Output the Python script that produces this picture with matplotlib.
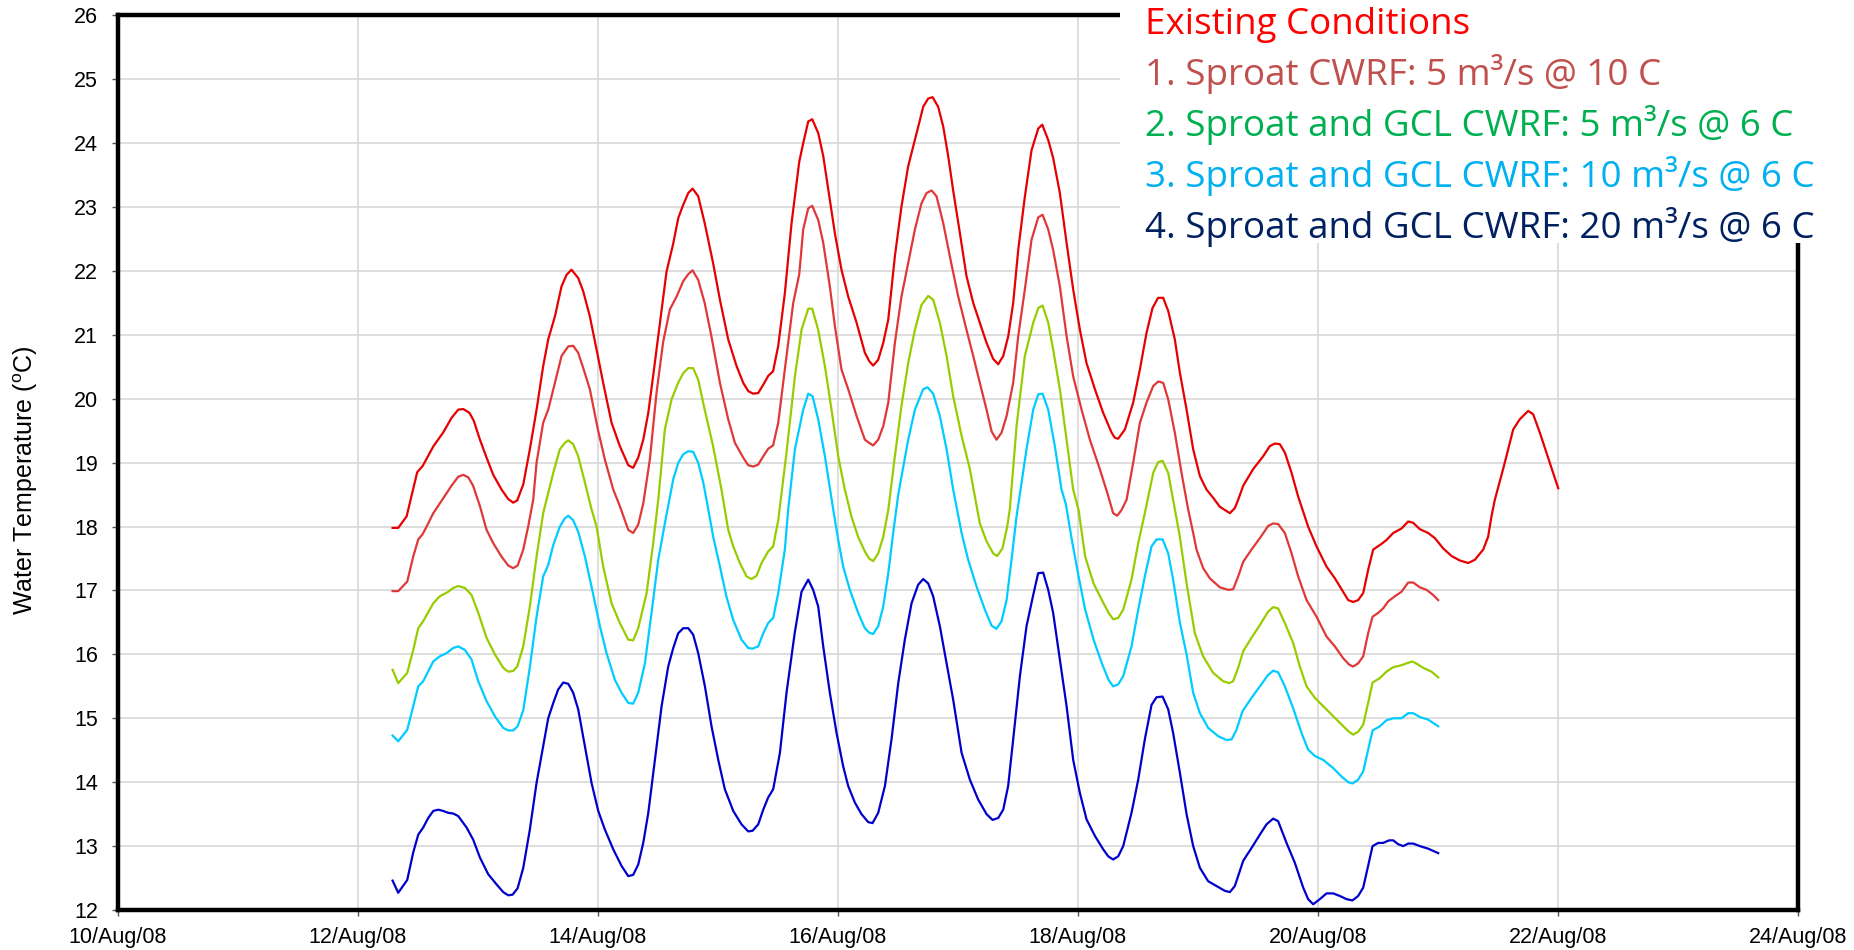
import numpy as np
import pandas as pd
import matplotlib
matplotlib.use("Agg")
from matplotlib import pyplot as plt
import matplotlib.dates as mdates
from matplotlib.patches import Rectangle

# day of August 2008 (fractional) and water temperature in deg C
existing_day = [12.289, 12.336, 12.406, 12.42, 12.494, 12.54, 12.63, 12.71, 12.78, 12.836, 12.878, 12.93, 12.967,
                13.017, 13.072, 13.128, 13.197, 13.253, 13.294, 13.328, 13.378, 13.433, 13.489, 13.544, 13.586,
                13.642, 13.697, 13.739, 13.78, 13.836, 13.878, 13.933, 13.989, 14.044, 14.114, 14.183, 14.253,
                14.294, 14.336, 14.378, 14.42, 14.46, 14.517, 14.572, 14.628, 14.67, 14.71, 14.753, 14.789,
                14.836, 14.89, 14.96, 15.017, 15.086, 15.156, 15.211, 15.253, 15.294, 15.336, 15.378, 15.42,
                15.46, 15.503, 15.558, 15.614, 15.678, 15.711, 15.753, 15.786, 15.836, 15.878, 15.933, 15.975,
                16.03, 16.086, 16.156, 16.225, 16.261, 16.294, 16.336, 16.378, 16.42, 16.475, 16.53, 16.586,
                16.628, 16.67, 16.711, 16.753, 16.789, 16.836, 16.878, 16.92, 16.96, 17.017, 17.072, 17.128,
                17.183, 17.239, 17.294, 17.336, 17.378, 17.42, 17.461, 17.503, 17.558, 17.614, 17.67, 17.703,
                17.753, 17.794, 17.85, 17.906, 17.961, 18.017, 18.072, 18.142, 18.211, 18.281, 18.308, 18.336,
                18.392, 18.461, 18.517, 18.572, 18.622, 18.669, 18.711, 18.753, 18.808, 18.85, 18.906, 18.961,
                19.017, 19.072, 19.128, 19.183, 19.267, 19.308, 19.336, 19.378, 19.461, 19.544, 19.6, 19.642,
                19.683, 19.725, 19.781, 19.836, 19.864, 19.919, 19.989, 20.072, 20.142, 20.211, 20.253, 20.294,
                20.336, 20.378, 20.419, 20.461, 20.531, 20.572, 20.628, 20.697, 20.753, 20.794, 20.85, 20.919,
                20.975, 21.044, 21.114, 21.183, 21.253, 21.308, 21.378, 21.419, 21.447, 21.475, 21.544, 21.628,
                21.683, 21.753, 21.794, 21.85, 21.933, 22.003]
existing_temp = [17.98, 17.98, 18.16, 18.27, 18.85, 18.95, 19.26, 19.47, 19.70, 19.83, 19.84, 19.78, 19.65,
                 19.36, 19.08, 18.81, 18.58, 18.43, 18.375, 18.41, 18.66, 19.21, 19.83, 20.51, 20.93,
                 21.29, 21.76, 21.94, 22.02, 21.89, 21.68, 21.29, 20.77, 20.25, 19.625, 19.26, 18.96,
                 18.92, 19.08, 19.36, 19.78, 20.35, 21.18, 21.99, 22.43, 22.83, 23.03, 23.22, 23.29,
                 23.17, 22.75, 22.125, 21.55, 20.93, 20.51, 20.25, 20.12, 20.08, 20.09, 20.22, 20.36,
                 20.43, 20.83, 21.65, 22.75, 23.71, 24.0, 24.34, 24.375, 24.16, 23.8, 23.11, 22.59,
                 22.02, 21.6, 21.19, 20.72, 20.59, 20.52, 20.61, 20.875, 21.24, 22.23, 23.01, 23.64,
                 23.95, 24.26, 24.57, 24.70, 24.72, 24.57, 24.26, 23.79, 23.27, 22.59, 21.92, 21.5,
                 21.19, 20.875, 20.625, 20.54, 20.67, 20.98, 21.5, 22.33, 23.16, 23.89, 24.23, 24.29,
                 24.05, 23.77, 23.22, 22.44, 21.71, 21.08, 20.56, 20.15, 19.78, 19.47, 19.39, 19.375,
                 19.52, 19.94, 20.46, 21.03, 21.42, 21.58, 21.58, 21.375, 20.93, 20.41, 19.83, 19.21,
                 18.79, 18.58, 18.45, 18.31, 18.21, 18.29, 18.42, 18.64, 18.9, 19.1, 19.26, 19.3,
                 19.29, 19.16, 18.84, 18.47, 18.31, 18.0, 17.69, 17.375, 17.19, 16.98, 16.85, 16.82,
                 16.85, 16.96, 17.32, 17.64, 17.73, 17.79, 17.9, 17.97, 18.08, 18.06, 17.96, 17.9,
                 17.82, 17.66, 17.54, 17.47, 17.43, 17.48, 17.64, 17.84, 18.16, 18.42, 18.9, 19.52,
                 19.68, 19.81, 19.76, 19.47, 19.0, 18.6]

s1_day = [12.289, 12.336, 12.411, 12.461, 12.503, 12.539, 12.586, 12.628, 12.71, 12.78, 12.836, 12.878, 12.92,
          12.96, 13.017, 13.072, 13.128, 13.197, 13.253, 13.294, 13.331, 13.378, 13.419, 13.461, 13.489,
          13.544, 13.586, 13.642, 13.697, 13.753, 13.794, 13.836, 13.878, 13.933, 14.0, 14.058, 14.128,
          14.183, 14.253, 14.294, 14.336, 14.378, 14.433, 14.489, 14.544, 14.6, 14.656, 14.711, 14.753,
          14.789, 14.836, 14.89, 14.947, 15.017, 15.086, 15.142, 15.211, 15.253, 15.294, 15.336, 15.378,
          15.42, 15.46, 15.503, 15.558, 15.628, 15.678, 15.711, 15.753, 15.786, 15.836, 15.878, 15.933,
          15.975, 16.03, 16.086, 16.156, 16.225, 16.261, 16.294, 16.336, 16.378, 16.42, 16.475, 16.53,
          16.586, 16.642, 16.697, 16.739, 16.781, 16.822, 16.878, 16.933, 17.003, 17.072, 17.128, 17.183,
          17.239, 17.281, 17.322, 17.364, 17.406, 17.461, 17.503, 17.558, 17.614, 17.67, 17.706, 17.753,
          17.794, 17.85, 17.906, 17.961, 18.031, 18.1, 18.183, 18.253, 18.294, 18.328, 18.364, 18.406,
          18.461, 18.517, 18.572, 18.628, 18.669, 18.711, 18.753, 18.808, 18.864, 18.919, 18.961, 18.989,
          19.044, 19.1, 19.183, 19.253, 19.294, 19.336, 19.378, 19.447, 19.517, 19.586, 19.628, 19.669,
          19.725, 19.781, 19.836, 19.906, 19.989, 20.072, 20.142, 20.211, 20.261, 20.294, 20.336, 20.378,
          20.419, 20.456, 20.503, 20.544, 20.586, 20.642, 20.697, 20.753, 20.794, 20.85, 20.906, 20.961,
          21.003]
s1_temp = [16.99, 16.99, 17.14, 17.53, 17.80, 17.88, 18.05, 18.21, 18.44, 18.64, 18.78, 18.81, 18.77,
           18.64, 18.32, 17.95, 17.74, 17.53, 17.39, 17.35, 17.39, 17.64, 18.0, 18.42, 19.0,
           19.625, 19.83, 20.25, 20.67, 20.82, 20.83, 20.72, 20.48, 20.15, 19.52, 19.05, 18.58,
           18.32, 17.95, 17.9, 18.03, 18.36, 19.05, 20.1, 20.89, 21.4, 21.6, 21.84, 21.95,
           22.01, 21.86, 21.5, 20.97, 20.25, 19.68, 19.31, 19.08, 18.96, 18.94, 18.97, 19.1,
           19.22, 19.27, 19.625, 20.46, 21.5, 21.95, 22.65, 22.98, 23.02, 22.80, 22.44, 21.76,
           21.14, 20.46, 20.15, 19.73, 19.36, 19.31, 19.27, 19.36, 19.57, 19.94, 20.875, 21.6,
           22.125, 22.65, 23.06, 23.22, 23.26, 23.17, 22.75, 22.23, 21.6, 21.08, 20.67, 20.25,
           19.83, 19.49, 19.36, 19.47, 19.73, 20.25, 20.98, 21.71, 22.49, 22.84, 22.88, 22.65,
           22.33, 21.76, 20.98, 20.35, 19.83, 19.36, 18.9, 18.48, 18.21, 18.17, 18.26, 18.42,
           19.0, 19.625, 19.94, 20.2, 20.27, 20.25, 19.99, 19.47, 18.84, 18.27, 17.9, 17.64,
           17.35, 17.19, 17.05, 17.01, 17.02, 17.22, 17.45, 17.64, 17.82, 18.01, 18.05, 18.04,
           17.9, 17.58, 17.22, 16.85, 16.59, 16.28, 16.125, 15.94, 15.84, 15.81, 15.86, 15.97,
           16.33, 16.59, 16.65, 16.72, 16.83, 16.91, 16.98, 17.125, 17.125, 17.05, 17.01, 16.93,
           16.85]

s2_day = [12.289, 12.336, 12.411, 12.461, 12.503, 12.544, 12.628, 12.683, 12.753, 12.794, 12.836, 12.892, 12.947,
          13.003, 13.072, 13.142, 13.211, 13.253, 13.294, 13.328, 13.378, 13.433, 13.489, 13.544, 13.628,
          13.683, 13.725, 13.753, 13.794, 13.836, 13.892, 13.947, 13.989, 14.044, 14.114, 14.183, 14.253,
          14.294, 14.336, 14.406, 14.461, 14.503, 14.558, 14.614, 14.669, 14.711, 14.753, 14.794, 14.836,
          14.89, 14.96, 15.03, 15.086, 15.128, 15.183, 15.239, 15.281, 15.322, 15.364, 15.419, 15.461,
          15.503, 15.572, 15.642, 15.697, 15.753, 15.786, 15.836, 15.892, 15.947, 16.003, 16.058, 16.114,
          16.169, 16.225, 16.261, 16.294, 16.336, 16.378, 16.42, 16.475, 16.53, 16.586, 16.642, 16.697,
          16.753, 16.794, 16.85, 16.906, 16.961, 17.031, 17.1, 17.183, 17.239, 17.294, 17.328, 17.372,
          17.411, 17.433, 17.489, 17.558, 17.628, 17.67, 17.706, 17.753, 17.794, 17.85, 17.906, 17.961,
          18.006, 18.061, 18.131, 18.2, 18.256, 18.294, 18.336, 18.378, 18.447, 18.503, 18.558, 18.628,
          18.669, 18.706, 18.753, 18.808, 18.85, 18.906, 18.975, 19.044, 19.128, 19.211, 19.261, 19.294,
          19.336, 19.378, 19.447, 19.517, 19.586, 19.628, 19.669, 19.725, 19.794, 19.85, 19.906, 19.975,
          20.044, 20.114, 20.183, 20.253, 20.294, 20.336, 20.378, 20.419, 20.456, 20.517, 20.572, 20.628,
          20.697, 20.739, 20.789, 20.836, 20.878, 20.947, 21.003]
s2_temp = [15.76, 15.55, 15.71, 16.07, 16.41, 16.52, 16.8, 16.91, 16.98, 17.04, 17.07, 17.04, 16.93,
           16.65, 16.26, 16.0, 15.79, 15.73, 15.74, 15.81, 16.125, 16.75, 17.53, 18.21, 18.84,
           19.21, 19.31, 19.35, 19.29, 19.1, 18.69, 18.27, 18.0, 17.375, 16.8, 16.49, 16.23,
           16.22, 16.41, 16.96, 17.74, 18.42, 19.52, 19.99, 20.25, 20.4, 20.48, 20.48, 20.3,
           19.83, 19.26, 18.58, 17.95, 17.69, 17.43, 17.22, 17.18, 17.23, 17.43, 17.61, 17.69,
           18.1, 19.16, 20.35, 21.08, 21.41, 21.41, 21.08, 20.51, 19.83, 19.1, 18.58, 18.15,
           17.84, 17.61, 17.5, 17.46, 17.58, 17.84, 18.26, 19.1, 19.89, 20.56, 21.08, 21.47,
           21.61, 21.55, 21.19, 20.67, 20.04, 19.42, 18.9, 18.05, 17.77, 17.58, 17.54, 17.66,
           18.0, 18.27, 19.57, 20.67, 21.19, 21.42, 21.46, 21.19, 20.77, 20.15, 19.36, 18.58,
           18.26, 17.53, 17.11, 16.85, 16.65, 16.55, 16.57, 16.7, 17.17, 17.74, 18.21, 18.84,
           19.01, 19.03, 18.84, 18.27, 17.84, 17.11, 16.33, 15.97, 15.71, 15.58, 15.55, 15.58,
           15.79, 16.05, 16.26, 16.46, 16.67, 16.74, 16.72, 16.49, 16.18, 15.81, 15.5, 15.32,
           15.19, 15.06, 14.93, 14.8, 14.745, 14.79, 14.9, 15.24, 15.56, 15.63, 15.73, 15.8,
           15.83, 15.86, 15.89, 15.84, 15.79, 15.73, 15.64]

s3_day = [12.289, 12.336, 12.411, 12.461, 12.503, 12.544, 12.628, 12.683, 12.739, 12.794, 12.836, 12.892, 12.947,
          13.003, 13.072, 13.142, 13.211, 13.253, 13.294, 13.331, 13.378, 13.433, 13.489, 13.544, 13.586,
          13.628, 13.683, 13.725, 13.753, 13.794, 13.836, 13.892, 13.947, 14.017, 14.072, 14.142, 14.197,
          14.253, 14.294, 14.336, 14.392, 14.447, 14.503, 14.558, 14.628, 14.67, 14.711, 14.753, 14.794,
          14.836, 14.878, 14.92, 14.961, 15.017, 15.072, 15.128, 15.197, 15.253, 15.289, 15.336, 15.378,
          15.419, 15.461, 15.503, 15.558, 15.586, 15.642, 15.711, 15.753, 15.789, 15.836, 15.892, 15.961,
          16.003, 16.044, 16.1, 16.169, 16.225, 16.261, 16.294, 16.336, 16.378, 16.42, 16.461, 16.503,
          16.586, 16.642, 16.711, 16.747, 16.794, 16.85, 16.906, 16.961, 17.031, 17.086, 17.156, 17.225,
          17.281, 17.322, 17.364, 17.406, 17.447, 17.489, 17.572, 17.628, 17.67, 17.706, 17.753, 17.808,
          17.864, 17.9, 17.95, 18.006, 18.061, 18.131, 18.2, 18.256, 18.294, 18.336, 18.378, 18.447,
          18.503, 18.558, 18.614, 18.656, 18.706, 18.753, 18.794, 18.85, 18.906, 18.961, 19.017, 19.086,
          19.169, 19.239, 19.281, 19.322, 19.372, 19.447, 19.517, 19.586, 19.628, 19.669, 19.725, 19.794,
          19.864, 19.919, 19.975, 20.044, 20.128, 20.197, 20.253, 20.289, 20.336, 20.378, 20.419, 20.456,
          20.517, 20.572, 20.628, 20.697, 20.753, 20.794, 20.85, 20.919, 21.003]
s3_temp = [14.73, 14.64, 14.82, 15.19, 15.5, 15.58, 15.89, 15.97, 16.02, 16.1, 16.125, 16.07, 15.92,
           15.58, 15.27, 15.03, 14.85, 14.81, 14.81, 14.875, 15.125, 15.8, 16.59, 17.22, 17.4,
           17.71, 18.0, 18.13, 18.17, 18.1, 17.92, 17.53, 17.06, 16.44, 16.02, 15.6, 15.4,
           15.24, 15.23, 15.4, 15.86, 16.65, 17.48, 18.05, 18.74, 19.0, 19.13, 19.18, 19.17,
           19.0, 18.69, 18.27, 17.84, 17.375, 16.9, 16.54, 16.23, 16.1, 16.09, 16.125, 16.33,
           16.49, 16.57, 16.96, 17.64, 18.27, 19.21, 19.83, 20.08, 20.04, 19.68, 19.1, 18.27,
           17.79, 17.375, 17.01, 16.65, 16.41, 16.34, 16.32, 16.44, 16.75, 17.27, 17.9, 18.5,
           19.36, 19.83, 20.15, 20.18, 20.08, 19.73, 19.21, 18.58, 17.9, 17.48, 17.06, 16.7,
           16.45, 16.4, 16.52, 16.85, 17.48, 18.16, 19.21, 19.83, 20.07, 20.08, 19.83, 19.26,
           18.58, 18.35, 17.79, 17.22, 16.7, 16.23, 15.86, 15.6, 15.5, 15.53, 15.66, 16.125,
           16.7, 17.22, 17.69, 17.8, 17.8, 17.58, 17.17, 16.5, 16.0, 15.4, 15.08, 14.85,
           14.72, 14.66, 14.67, 14.82, 15.11, 15.32, 15.5, 15.68, 15.745, 15.72, 15.5, 15.16,
           14.77, 14.51, 14.41, 14.35, 14.22, 14.09, 14.0, 13.98, 14.04, 14.17, 14.51, 14.81,
           14.875, 14.97, 15.0, 15.0, 15.08, 15.08, 15.02, 14.98, 14.875]

s4_day = [12.289, 12.336, 12.411, 12.461, 12.503, 12.544, 12.586, 12.628, 12.669, 12.711, 12.753, 12.794, 12.836,
          12.906, 12.961, 13.017, 13.086, 13.156, 13.211, 13.253, 13.289, 13.331, 13.378, 13.433, 13.489,
          13.544, 13.586, 13.628, 13.669, 13.711, 13.753, 13.794, 13.836, 13.892, 13.947, 14.003, 14.058,
          14.128, 14.197, 14.253, 14.294, 14.336, 14.378, 14.42, 14.475, 14.531, 14.586, 14.628, 14.669,
          14.711, 14.753, 14.794, 14.836, 14.892, 14.947, 15.003, 15.058, 15.128, 15.197, 15.253, 15.289,
          15.336, 15.378, 15.419, 15.461, 15.517, 15.572, 15.64, 15.697, 15.753, 15.794, 15.836, 15.878,
          15.933, 15.989, 16.044, 16.086, 16.142, 16.197, 16.253, 16.289, 16.336, 16.392, 16.447, 16.503,
          16.558, 16.614, 16.669, 16.711, 16.753, 16.794, 16.85, 16.906, 16.961, 17.031, 17.1, 17.169,
          17.239, 17.289, 17.336, 17.378, 17.419, 17.461, 17.517, 17.572, 17.628, 17.669, 17.711, 17.753,
          17.794, 17.85, 17.906, 17.961, 18.017, 18.072, 18.142, 18.211, 18.253, 18.294, 18.336, 18.378,
          18.447, 18.503, 18.558, 18.614, 18.656, 18.706, 18.753, 18.794, 18.85, 18.906, 18.961, 19.017,
          19.086, 19.156, 19.225, 19.267, 19.308, 19.378, 19.447, 19.517, 19.572, 19.628, 19.669, 19.739,
          19.808, 19.878, 19.919, 19.961, 20.017, 20.072, 20.128, 20.183, 20.239, 20.289, 20.336, 20.378,
          20.419, 20.456, 20.503, 20.544, 20.594, 20.628, 20.669, 20.711, 20.753, 20.794, 20.85, 20.919,
          21.003]
s4_temp = [12.46, 12.27, 12.47, 12.9, 13.18, 13.29, 13.44, 13.55, 13.57, 13.55, 13.52, 13.51, 13.47,
           13.29, 13.1, 12.82, 12.56, 12.4, 12.28, 12.23, 12.24, 12.34, 12.66, 13.26, 13.99,
           14.56, 15.0, 15.24, 15.45, 15.56, 15.54, 15.4, 15.14, 14.56, 13.99, 13.55, 13.26,
           12.95, 12.69, 12.53, 12.55, 12.71, 13.05, 13.52, 14.35, 15.19, 15.81, 16.1, 16.33,
           16.41, 16.41, 16.31, 16.02, 15.5, 14.875, 14.35, 13.89, 13.55, 13.34, 13.23, 13.24,
           13.34, 13.57, 13.76, 13.89, 14.46, 15.4, 16.33, 16.98, 17.17, 17.01, 16.75, 16.125,
           15.4, 14.77, 14.25, 13.94, 13.68, 13.5, 13.375, 13.36, 13.52, 13.94, 14.67, 15.55,
           16.23, 16.8, 17.09, 17.18, 17.11, 16.91, 16.44, 15.86, 15.29, 14.46, 14.04, 13.73,
           13.5, 13.41, 13.44, 13.57, 13.94, 14.67, 15.66, 16.44, 16.93, 17.27, 17.28, 17.01,
           16.65, 15.92, 15.19, 14.35, 13.83, 13.42, 13.16, 12.95, 12.84, 12.79, 12.84, 13.0,
           13.52, 14.04, 14.67, 15.21, 15.33, 15.34, 15.14, 14.77, 14.15, 13.5, 13.0, 12.66,
           12.45, 12.375, 12.3, 12.28, 12.375, 12.77, 12.97, 13.18, 13.34, 13.43, 13.39, 13.05,
           12.74, 12.35, 12.17, 12.09, 12.17, 12.26, 12.26, 12.22, 12.17, 12.15, 12.22, 12.35,
           12.69, 13.0, 13.05, 13.05, 13.09, 13.09, 13.03, 13.0, 13.04, 13.04, 13.0, 12.96,
           12.89]

series_names = ["Existing Conditions",
                "1. Sproat CWRF: 5 m\u00b3/s @ 10 C",
                "2. Sproat and GCL CWRF: 5 m\u00b3/s @ 6 C",
                "3. Sproat and GCL CWRF: 10 m\u00b3/s @ 6 C",
                "4. Sproat and GCL CWRF: 20 m\u00b3/s @ 6 C"]
line_colors = ["#e60000", "#e03838", "#99cc00", "#00ccff", "#0000cc"]
text_colors = ["#ff0000", "#c0504d", "#00b050", "#00b0f0", "#002060"]

plt.rcParams["font.family"] = ["Liberation Sans", "DejaVu Sans"]
plt.rcParams["mathtext.fontset"] = "custom"
plt.rcParams["mathtext.rm"] = "Liberation Sans"


def to_time(days):
    # day of August -> timestamps
    return pd.Timestamp("2008-08-01") + pd.to_timedelta(np.array(days) - 1, unit="D")


fig = plt.figure(figsize=(18.54, 9.5), dpi=100)
ax = fig.add_axes([0.0636, 0.0421, 0.9061, 0.9417])

all_days = [existing_day, s1_day, s2_day, s3_day, s4_day]
all_temps = [existing_temp, s1_temp, s2_temp, s3_temp, s4_temp]
for d, t, c in zip(all_days, all_temps, line_colors):
    ax.plot(to_time(d), t, color=c, lw=1.6, zorder=3)

ax.set_xlim(pd.Timestamp("2008-08-10"), pd.Timestamp("2008-08-24"))
ax.set_ylim(12, 26)
ax.xaxis.set_major_locator(mdates.DayLocator(bymonthday=range(10, 25, 2)))
ax.xaxis.set_major_formatter(mdates.DateFormatter("%d/%b/%y"))
ax.set_yticks(range(12, 27))

ax.grid(True, color="#d4d4d4", lw=1.1)
ax.set_axisbelow(True)
for sp in ax.spines.values():
    sp.set_linewidth(3.2)
    sp.set_color("black")
ax.tick_params(axis="both", direction="out", length=4.5, width=1, color="#555555", labelsize=15.5)
ax.tick_params(axis="y", pad=10)
ax.tick_params(axis="x", pad=8)

fig.text(0.014, 0.495, "Water Temperature ($^{\\mathrm{o}}$C)", rotation=90,
         ha="center", va="center", fontsize=18)

# white legend box sitting over the top-right corner of the frame
fig.patches.append(Rectangle((0.604, 0.744), 0.4, 0.26, transform=fig.transFigure,
                             facecolor="white", edgecolor="none", zorder=2))
ys = [0.9642, 0.9105, 0.8568, 0.8032, 0.7495]
for name, col, y in zip(series_names, text_colors, ys):
    fig.text(0.6176, y, name, color=col, fontsize=26.5, family=["Open Sans", "DejaVu Sans"],
             va="baseline", ha="left", zorder=4)

fig.savefig("out.png", dpi=100)
